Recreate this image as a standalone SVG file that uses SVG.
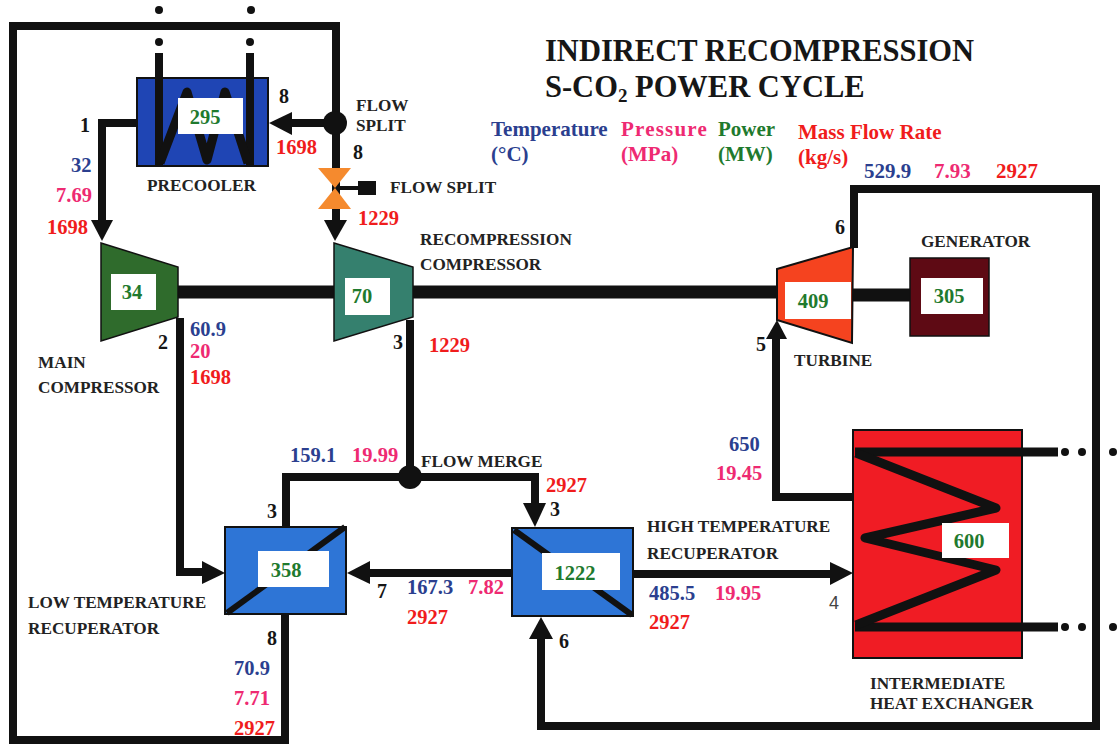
<svg xmlns="http://www.w3.org/2000/svg" width="1117" height="744" viewBox="0 0 1117 744">
<style>
text{font-family:"Liberation Serif","Times New Roman",serif;font-weight:bold;}
.v{font-size:20.5px}
.h{font-size:21px}
.b{fill:#2b3f8f}.p{fill:#ee2a72}.r{fill:#f01c1c}.g{fill:#1f7a2e}.k{fill:#161616}
.l{font-size:17.2px;fill:#222}
.n{font-size:20px;fill:#161616}
.t{font-size:20.5px;fill:#1f7a2e;text-anchor:middle}
.w{fill:#fff}
.c{fill:none;stroke:#111;stroke-width:8}
.c2{fill:none;stroke:#111;stroke-width:4}
.s{fill:none;stroke:#111;stroke-width:13}
.z{fill:none;stroke:#111;stroke-width:9;stroke-linejoin:round}
.a{fill:#111}
.d{fill:#111}
</style>
<rect width="1117" height="744" fill="#fff"/>
<g id="connectors">
<path class="c" d="M336 123V26H13V740H285V612"/>
<path class="c" d="M137 123H102V222"/>
<polygon class="a" points="91,220 113,220 102,241"/>
<path class="c" d="M336 123H285"/>
<polygon class="a" points="269,123 292,112 292,135"/>
<path class="c" d="M336 123V222"/>
<polygon class="a" points="324,220 347,220 335,241"/>
<path class="s" d="M178 292H334M413 292H778M853 295H912"/>
<path class="c" d="M180 318V572H208"/>
<polygon class="a" points="202,561 225,573 202,584"/>
<path class="c" d="M410 320V477H286V527"/>
<path class="c" d="M410 477H535V510"/>
<polygon class="a" points="523,503 546,503 535,527"/>
<circle class="a" cx="410" cy="477" r="12"/>
<circle class="a" cx="335" cy="123" r="12"/>
<path class="c" d="M513 573H360"/>
<polygon class="a" points="347,573 370,561 370,584"/>
<path class="c" d="M633 574H835"/>
<polygon class="a" points="853,573 830,562 830,585"/>
<path class="c" d="M855 497H776V330"/>
<polygon class="a" points="766,339 787,339 777,320"/>
<path class="c" d="M854 248V189H1096V726H541V630"/>
<polygon class="a" points="529,639 553,639 541,617"/>
<path class="c2" d="M336 188H362"/>
</g>
<g id="precooler">
<rect x="137" y="78" width="131" height="88" fill="#1f45b4" stroke="#111" stroke-width="2"/>
<path class="c" d="M159 53V165M250 53V165"/>
<path class="z" d="M160 163L187 92L207 160L225 92L248 163"/>
<rect class="w" x="178" y="98" width="65" height="36"/>
<text class="t" x="205" y="124">295</text>
</g>
<g id="valve">
<polygon points="318,168 351,168 335,188" fill="#f58a2e"/>
<polygon points="318,209 351,209 335,188" fill="#f58a2e"/>
<rect class="a" x="358" y="181" width="18" height="14"/>
</g>
<g id="main-compressor">
<polygon points="101,243 178,267 178,317 101,341" fill="#2f6b2c" stroke="#111" stroke-width="1.5"/>
<rect class="w" x="111" y="274" width="45" height="36"/>
<text class="t" x="132" y="299">34</text>
</g>
<g id="recompression-compressor">
<polygon points="334,243 413,267 413,317 334,341" fill="#35806e" stroke="#111" stroke-width="1.5"/>
<rect class="w" x="345" y="278" width="45" height="37"/>
<text class="t" x="362" y="303">70</text>
</g>
<g id="turbine">
<polygon points="777,269 853,247 852,343 777,320" fill="#f5431f" stroke="#111" stroke-width="2"/>
<rect class="w" x="785" y="282" width="66" height="37"/>
<text class="t" x="813" y="308">409</text>
</g>
<g id="generator">
<rect x="910" y="258" width="79" height="78" fill="#5e0a14" stroke="#111" stroke-width="1.5"/>
<rect class="w" x="921" y="278" width="62" height="36"/>
<text class="t" x="949" y="303">305</text>
</g>
<g id="low-temperature-recuperator">
<rect x="225" y="527" width="121" height="87" fill="#2e75d6" stroke="#111" stroke-width="2"/>
<path d="M227 613L345 527" stroke="#111" stroke-width="6"/>
<rect class="w" x="258" y="551" width="71" height="36"/>
<text class="t" x="286" y="577">358</text>
</g>
<g id="high-temperature-recuperator">
<rect x="512" y="528" width="121" height="88" fill="#2e75d6" stroke="#111" stroke-width="2"/>
<path d="M514 530L632 615" stroke="#111" stroke-width="6"/>
<rect class="w" x="542" y="553" width="78" height="37"/>
<text class="t" x="575" y="580">1222</text>
</g>
<g id="intermediate-heat-exchanger">
<rect x="853" y="430" width="169" height="228" fill="#f01c24" stroke="#111" stroke-width="2"/>
<path d="M855 452H1058M855 627H1058" stroke="#111" stroke-width="9" fill="none"/>
<path class="z" d="M856 453L996 508L865 538L996 570L856 625"/>
<rect class="w" x="942" y="523" width="67" height="35"/>
<text class="t" x="969" y="548">600</text>
</g>
<g id="dots">
<circle class="d" cx="159" cy="10" r="4"/><circle class="d" cx="251" cy="10" r="4"/>
<circle class="d" cx="159" cy="42" r="4"/><circle class="d" cx="250" cy="42" r="4"/>
<circle class="d" cx="1065" cy="452" r="4"/><circle class="d" cx="1082" cy="452" r="4"/><circle class="d" cx="1113" cy="452" r="4"/>
<circle class="d" cx="1065" cy="627" r="4"/><circle class="d" cx="1082" cy="627" r="4"/><circle class="d" cx="1113" cy="627" r="4"/>
</g>
<g id="labels">
<text x="545" y="61" font-size="30.5" class="k">INDIRECT RECOMPRESSION</text>
<text x="545" y="97" font-size="30.5" class="k">S-CO<tspan font-size="19" dy="5">2</tspan><tspan dy="-5"> POWER CYCLE</tspan></text>
<text x="491" y="136" class="h b">Temperature</text><text x="491" y="161" class="h b">(°C)</text>
<text x="621" y="136" class="h p" letter-spacing="1.2">Pressure</text><text x="621" y="161" class="h p">(MPa)</text>
<text x="718" y="136" class="h g">Power</text><text x="718" y="161" class="h g">(MW)</text>
<text x="798" y="139" class="h r">Mass Flow Rate</text><text x="798" y="164" class="h r">(kg/s)</text>
<text x="864" y="178" class="h b">529.9</text><text x="934" y="178" class="h p">7.93</text><text x="996" y="178" class="h r">2927</text>
<text x="80" y="132" class="n">1</text>
<text x="71" y="172" class="v b">32</text><text x="56" y="202" class="v p">7.69</text><text x="47" y="234" class="v r">1698</text>
<text x="279" y="103" class="n">8</text><text x="276" y="154" class="v r">1698</text>
<text x="356" y="111" class="l">FLOW</text><text x="356" y="131" class="l">SPLIT</text>
<text x="353" y="159" class="n">8</text>
<text x="390" y="193" class="l">FLOW SPLIT</text>
<text x="358" y="225" class="v r">1229</text>
<text x="147" y="191" class="l">PRECOOLER</text>
<text x="420" y="245" class="l">RECOMPRESSION</text><text x="420" y="270" class="l">COMPRESSOR</text>
<text x="921" y="247" class="l">GENERATOR</text>
<text x="835" y="234" class="n">6</text>
<text x="190" y="336" class="v b">60.9</text><text x="190" y="358" class="v p">20</text><text x="190" y="384" class="v r">1698</text>
<text x="158" y="349" class="n">2</text>
<text x="38" y="368" class="l">MAIN</text><text x="38" y="393" class="l">COMPRESSOR</text>
<text x="393" y="349" class="n">3</text><text x="429" y="352" class="v r">1229</text>
<text x="756" y="351" class="n">5</text>
<text x="794" y="366" class="l">TURBINE</text>
<text x="729" y="451" class="v b">650</text><text x="716" y="480" class="v p">19.45</text>
<text x="290" y="462" class="v b">159.1</text><text x="352" y="462" class="v p">19.99</text>
<text x="421" y="467" class="l">FLOW MERGE</text>
<text x="546" y="492" class="v r">2927</text>
<text x="267" y="518" class="n">3</text><text x="550" y="516" class="n">3</text>
<text x="647" y="532" class="l">HIGH TEMPERATURE</text><text x="647" y="559" class="l">RECUPERATOR</text>
<text x="377" y="598" class="n">7</text>
<text x="407" y="594" class="v b">167.3</text><text x="468" y="594" class="v p">7.82</text><text x="407" y="624" class="v r">2927</text>
<text x="649" y="600" class="v b">485.5</text><text x="715" y="600" class="v p">19.95</text><text x="649" y="629" class="v r">2927</text>
<text x="829" y="609" font-size="18" style="font-family:'Liberation Sans',Arial,sans-serif;font-weight:normal;fill:#444">4</text>
<text x="559" y="648" class="n">6</text>
<text x="28" y="608" class="l">LOW TEMPERATURE</text><text x="28" y="634" class="l">RECUPERATOR</text>
<text x="267" y="645" class="n">8</text>
<text x="234" y="675" class="v b">70.9</text><text x="234" y="705" class="v p">7.71</text><text x="234" y="735" class="v r">2927</text>
<text x="870" y="689" class="l">INTERMEDIATE</text><text x="870" y="709" class="l">HEAT EXCHANGER</text>
</g>
</svg>
